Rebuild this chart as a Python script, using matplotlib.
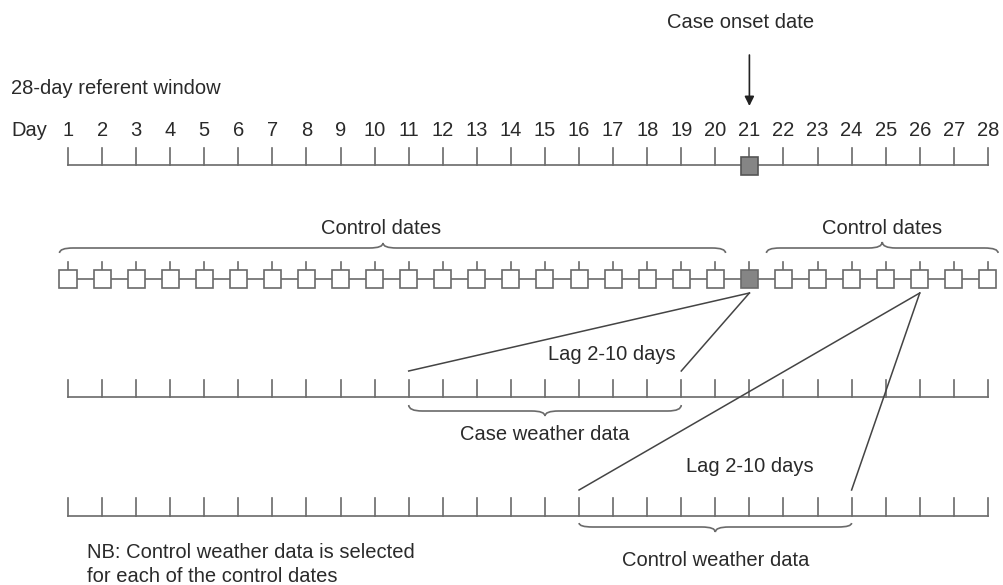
import numpy as np
import matplotlib.pyplot as plt
from matplotlib.path import Path
from matplotlib.patches import PathPatch, Rectangle

plt.rcParams['font.family'] = ['Liberation Sans', 'DejaVu Sans']

# Data
days = list(range(1, 29))
case_day = 21
example_control_day = 26
lag_min, lag_max = 2, 10
control_days_before = [d for d in days if d < case_day]
control_days_after = [d for d in days if d > case_day]

line_col = '#6a6a6a'
text_col = '#2a2a2a'
box_fill = '#858585'
fs = 14.5

fig = plt.figure(figsize=(10.04, 5.85), dpi=100)
ax = fig.add_axes([0, 0, 1, 1])
# one day = 34.07 px, day 1 sits at x = 68 px
px_per_day = 34.07
ax.set_xlim(1 - 68 / px_per_day, 1 + (1004 - 68) / px_per_day)
ax.set_ylim(585, 0)
ax.axis('off')


def px(x):
    # pixel column -> day coordinate (for text placement only)
    return 1 + (x - 68) / px_per_day


box_w = 0.25  # half width in days


def timeline(y, tick_h):
    ax.plot([days[0], days[-1]], [y, y], color=line_col, lw=1.2)
    for d in days:
        ax.plot([d, d], [y - tick_h, y], color=line_col, lw=1.2)


def brace(x0, x1, y_end, y_flat, y_tip, r=0.4, xm=None):
    if xm is None:
        xm = (x0 + x1) / 2
    verts = [(x0, y_end), (x0, y_flat), (x0 + r, y_flat),
             (xm - r, y_flat), (xm, y_flat), (xm, y_tip),
             (xm, y_flat), (xm + r, y_flat),
             (x1 - r, y_flat), (x1, y_flat), (x1, y_end)]
    codes = [Path.MOVETO, Path.CURVE3, Path.CURVE3,
             Path.LINETO, Path.CURVE3, Path.CURVE3,
             Path.CURVE3, Path.CURVE3,
             Path.LINETO, Path.CURVE3, Path.CURVE3]
    ax.add_patch(PathPatch(Path(verts, codes), fill=False, ec=line_col, lw=1.2))


# Row 1: referent window
ax.text(px(11), 88, '28-day referent window', fontsize=fs, color=text_col, va='center')
ax.text(px(11), 131, 'Day', fontsize=fs, color=text_col, va='center')
for d in days:
    ax.text(d, 131, str(d), fontsize=fs, color=text_col, ha='center', va='center')
timeline(165, 17)
ax.add_patch(Rectangle((case_day - box_w, 157), 2 * box_w, 18,
                       fc=box_fill, ec='#555555', lw=1.2, zorder=3))
ax.text(px(741), 22, 'Case onset date', fontsize=fs, color=text_col, ha='center', va='center')
ax.annotate('', xy=(case_day, 106), xytext=(case_day, 55),
            arrowprops=dict(arrowstyle='-|>', color='#222222', lw=1.2,
                            mutation_scale=14, shrinkA=0, shrinkB=0))

# Row 2: control dates and case date
y2 = 279
ax.plot([days[0], days[-1]], [y2, y2], color=line_col, lw=1.2, zorder=1)
for d in days:
    fc = box_fill if d == case_day else 'white'
    ax.add_patch(Rectangle((d - box_w, y2 - 9), 2 * box_w, 18,
                           fc=fc, ec=line_col, lw=1.2, zorder=3))
    ax.plot([d, d], [y2 - 17, y2 - 9], color=line_col, lw=1.2)

brace(control_days_before[0] - 0.25, control_days_before[-1] + 0.3, 253, 248, 243,
      xm=px(383))
brace(control_days_after[0] - 0.5, control_days_after[-1] + 0.3, 253, 248, 242)
ax.text(px(381), 228, 'Control dates', fontsize=fs, color=text_col, ha='center', va='center')
ax.text((control_days_after[0] + control_days_after[-1]) / 2 - 0.1, 228, 'Control dates',
        fontsize=fs, color=text_col, ha='center', va='center')

# Row 3: case weather data
y3 = 397
timeline(y3, 17)
case_lo, case_hi = case_day - lag_max, case_day - lag_min
ax.plot([case_lo, case_day], [y3 - 26, y2 + 14], color='#444444', lw=1.1)
ax.plot([case_hi, case_day], [y3 - 26, y2 + 14], color='#444444', lw=1.1)
ax.text(px(612), 355, 'Lag 2-10 days', fontsize=fs, color=text_col, ha='center', va='center')
brace(case_lo, case_hi, 405, 411, 416)
ax.text((case_lo + case_hi) / 2, 434, 'Case weather data', fontsize=fs,
        color=text_col, ha='center', va='center')

# Row 4: control weather data
y4 = 516
timeline(y4, 18)
ctl_lo, ctl_hi = example_control_day - lag_max, example_control_day - lag_min
ax.plot([ctl_lo, example_control_day], [y4 - 26, y2 + 14], color='#444444', lw=1.1)
ax.plot([ctl_hi, example_control_day], [y4 - 26, y2 + 14], color='#444444', lw=1.1)
ax.text(px(750), 467, 'Lag 2-10 days', fontsize=fs, color=text_col, ha='center', va='center')
brace(ctl_lo, ctl_hi, 523, 527, 532)
ax.text((ctl_lo + ctl_hi) / 2, 561, 'Control weather data', fontsize=fs,
        color=text_col, ha='center', va='center')

ax.text(px(87), 553, 'NB: Control weather data is selected',
        fontsize=fs, color=text_col, va='center')
ax.text(px(87), 577, 'for each of the control dates',
        fontsize=fs, color=text_col, va='center')

fig.savefig('out.png', dpi=100)
